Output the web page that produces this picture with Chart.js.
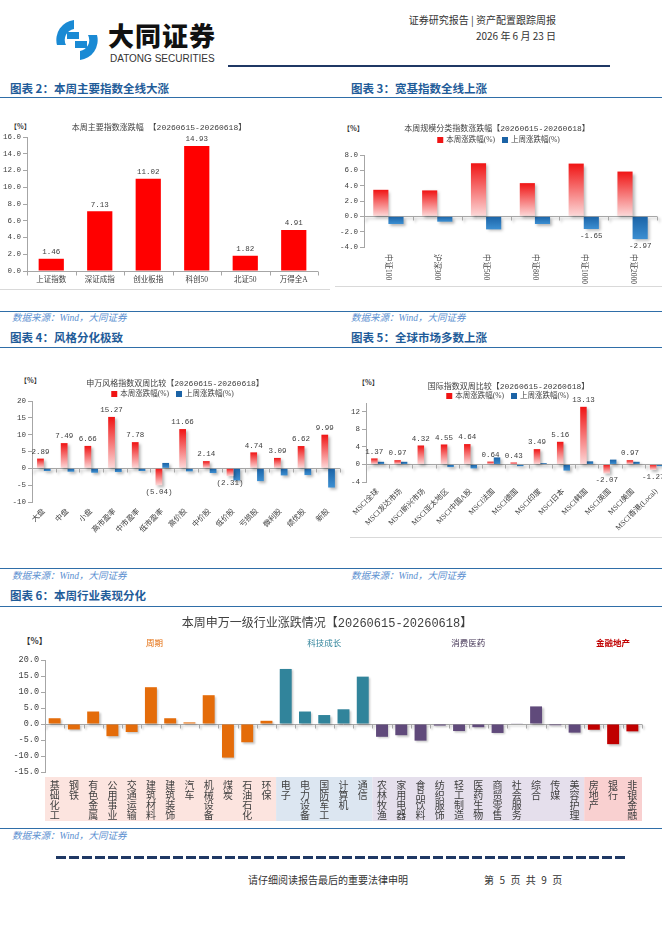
<!DOCTYPE html>
<html lang="zh-CN">
<head>
<meta charset="utf-8">
<title>资产配置跟踪周报</title>
<script src="https://cdn.jsdelivr.net/npm/chart.js@4.4.1/dist/chart.umd.min.js"></script>
<style>
  html, body { margin: 0; padding: 0; background: #fff; overflow: hidden; }
  body { position: relative; width: 662px; height: 936px; font-family: "Noto Sans CJK SC", sans-serif; color: #333; }
  .a { position: absolute; white-space: nowrap; line-height: 1; }
  .sec { font-size: 11.5px; font-weight: bold; color: #1f5c99; }
  .rule { position: absolute; left: 0; width: 662px; height: 0; border-top: 1.5px solid #2f6ea8; }
  .src { font-size: 9.5px; font-style: italic; color: #5b8fd0; font-family: "Liberation Serif", "Noto Sans CJK SC", serif; }
  .pct { font-size: 7px; font-weight: bold; color: #333; }
  .box { position: absolute; height: 0; border-top: 1px solid #d9d9d9; }
  canvas { position: absolute; }
</style>
</head>
<body>

<!-- 页眉 -->
<svg class="a" style="left:52px;top:17px" width="50" height="46" viewBox="0 0 50 46">
  <path d="M22 3 A20 20 0 0 0 5 28 L14 28 A11 11 0 0 1 22 12 Z" fill="#1a8ad4"/>
  <path d="M28 43 A20 20 0 0 0 45 18 L36 18 A11 11 0 0 1 28 34 Z" fill="#1a8ad4"/>
  <rect x="15" y="15" width="12" height="7" fill="#1a8ad4"/>
  <rect x="23" y="24" width="12" height="7" fill="#1a8ad4"/>
</svg>
<div class="a" style="left:108px;top:22px;font-size:26px;font-weight:900;color:#111;letter-spacing:1px">大同证券</div>
<div class="a" style="left:110px;top:54px;font-size:10px;color:#333;font-family:'Liberation Sans',sans-serif">DATONG SECURITIES</div>
<div class="a" style="left:228px;top:65px;width:382px;height:2px;background:#1f3864"></div>
<div class="a" style="left:380px;top:15px;width:176px;text-align:right;font-size:10px">证券研究报告 | 资产配置跟踪周报</div>
<div class="a" style="left:380px;top:31px;width:176px;text-align:right;font-size:10px">2026 年 6 月 23 日</div>

<!-- 图表标题与分隔线 -->
<div class="a sec" style="left:10px;top:83px">图表 2：本周主要指数全线大涨</div>
<div class="a sec" style="left:351px;top:83px">图表 3：宽基指数全线上涨</div>
<div class="rule" style="top:97px"></div>

<div class="a pct" style="left:10px;top:123px">【%】</div>
<div class="a pct" style="left:343px;top:125px">【%】</div>
<div class="box" style="left:0;top:289px;width:330px"></div>
<div class="box" style="left:335px;top:286px;width:327px"></div>

<div class="rule" style="top:311px"></div>
<div class="a src" style="left:12px;top:314px">数据来源：Wind，大同证券</div>
<div class="a src" style="left:351px;top:314px">数据来源：Wind，大同证券</div>
<div class="a sec" style="left:10px;top:332px">图表 4：风格分化极致</div>
<div class="a sec" style="left:351px;top:332px">图表 5：全球市场多数上涨</div>
<div class="rule" style="top:347px"></div>

<div class="a pct" style="left:20px;top:377px">【%】</div>
<div class="a pct" style="left:358px;top:379px">【%】</div>
<div class="box" style="left:350px;top:537px;width:312px"></div>

<div class="rule" style="top:568px"></div>
<div class="a src" style="left:12px;top:572px">数据来源：Wind，大同证券</div>
<div class="a src" style="left:351px;top:572px">数据来源：Wind，大同证券</div>
<div class="a sec" style="left:10px;top:590px">图表 6：本周行业表现分化</div>
<div class="rule" style="top:606px"></div>

<div class="a pct" style="left:22px;top:636px;font-size:8.5px">【%】</div>

<div class="rule" style="top:828px"></div>
<div class="a src" style="left:12px;top:832px">数据来源：Wind，大同证券</div>

<!-- 页脚 -->
<div class="a" style="left:56px;top:856px;width:571px;height:3px;background:repeating-linear-gradient(90deg,#1f3864 0 10px,transparent 10px 13px)"></div>
<div class="a" style="left:248px;top:875px;font-size:10px;color:#333">请仔细阅读报告最后的重要法律申明</div>
<div class="a" style="left:484px;top:875px;font-size:10px;color:#333;letter-spacing:1.6px">第 5 页 共 9 页</div>

<canvas id="c2" width="325" height="176" style="left:0;top:116px"></canvas>
<canvas id="c3" width="327" height="176" style="left:335px;top:116px"></canvas>
<canvas id="c4" width="345" height="170" style="left:0;top:372px"></canvas>
<canvas id="c5" width="345" height="170" style="left:335px;top:372px"></canvas>
<canvas id="c6" width="662" height="212" style="left:0;top:612px"></canvas>

<script>
// ===== 图表2：主要指数 =====
const idxNames = ["上证指数", "深证成指", "创业板指", "科创50", "北证50", "万得全A"];
const idxChg = [1.46, 7.13, 11.02, 14.93, 1.82, 4.91];
const idxAxis = [0, 16, 2]; // min, max, step

// ===== 图表3：规模指数 =====
const sizeNames = ["中证100", "沪深300", "中证500", "中证800", "中证1000", "中证2000"];
const sizeThisWeek = [3.46, 3.38, 6.93, 4.33, 6.88, 5.84];
const sizeLastWeek = [-1.0, -0.7, -1.7, -1.0, -1.65, -2.97];
const sizeLabelIdx = [4, 5];
const sizeAxis = [-4, 8, 2];

// ===== 图表4：申万风格指数 =====
const styleNames = ["大盘", "中盘", "小盘", "高市盈率", "中市盈率", "低市盈率", "高价股", "中价股", "低价股", "亏损股", "微利股", "绩优股", "新股"];
const styleThisWeek = [2.89, 7.49, 6.66, 15.27, 7.78, -5.04, 11.66, 2.14, -2.31, 4.74, 3.09, 6.62, 9.99];
const styleLastWeek = [-0.8, -1.0, -1.3, -1.1, -0.8, 1.6, -0.9, -1.4, -3.6, -3.8, -2.1, -2.0, -5.7];
const styleAxis = [-10, 20, 5];

// ===== 图表5：国际指数 =====
const msciNames = ["MSCI全球", "MSCI发达市场", "MSCI新兴市场", "MSCI亚太地区", "MSCI中国A股", "MSCI法国", "MSCI德国", "MSCI印度", "MSCI日本", "MSCI韩国", "MSCI英国", "MSCI美国", "MSCI香港(Local)"];
const msciThisWeek = [1.37, 0.97, 4.32, 4.55, 4.64, 0.64, 0.43, 3.49, 5.16, 13.13, -2.07, 0.97, -1.27];
const msciLastWeek = [0.6, 0.6, -0.1, -0.6, -0.9, 1.6, -0.4, 0.3, -1.4, 0.7, 1.1, 0.6, -0.4];
const msciAxis = [-4, 14, 2];

// ===== 图表6：申万一级行业 =====
const indNames = ["基础化工", "钢铁", "有色金属", "公用事业", "交通运输", "建筑材料", "建筑装饰", "汽车", "机械设备", "煤炭", "石油石化", "环保",
  "电子", "电力设备", "国防军工", "计算机", "通信",
  "农林牧渔", "家用电器", "食品饮料", "纺织服饰", "轻工制造", "医药生物", "商贸零售", "社会服务", "综合", "传媒", "美容护理",
  "房地产", "银行", "非银金融"];
const indChg = [1.8, -1.7, 3.9, -3.8, -2.5, 11.5, 1.8, 0.5, 9.0, -10.5, -5.7, 1.0,
  17.2, 3.9, 2.8, 4.6, 14.8,
  -4.0, -3.5, -5.2, -0.5, -2.2, -1.0, -2.8, 0.2, 5.5, -0.4, -2.7,
  -1.8, -6.3, -2.3];
const indGroupNames = ["周期", "科技成长", "消费医药", "金融地产"];
const indGroupSizes = [12, 5, 11, 3];
const indAxis = [-15, 20, 5];

// ===== 样式 =====
const NUM_FONT = '"Liberation Mono", "Noto Sans CJK SC", monospace';
const TXT_FONT = '"Liberation Serif", "Noto Sans CJK SC", serif';
const AXIS_COLOR = "#a6a6a6";
const TEXT_COLOR = "#404040";
const RED_TOP = "#f01414", RED_BOTTOM = "#fcd9d9";
const BLUE_TOP = "#1b63a6", BLUE_BOTTOM = "#3c8fd2";
const groupBarColors = ["#e46c0a", "#31849b", "#604a7b", "#c00000"];
const groupTextColors = ["#e46c0a", "#31849b", "#403152", "#c00000"];
const groupTextWeights = ["normal", "normal", "normal", "bold"];
const groupTextShift = [-6, 0, -10, 0];
const groupBandColors = ["#fce4df", "#dce6f1", "#e5dfec", "#f9d0d0"];

Chart.defaults.animation = false;
Chart.defaults.plugins.legend.display = false;
Chart.defaults.plugins.tooltip.enabled = false;

// 柱状渐变（上→下）
function gradFill(top, bottom) {
  return (c) => {
    const chart = c.chart, ys = chart.scales.y;
    if (!ys || !chart.chartArea || typeof c.raw !== "number") return top;
    const y0 = ys.getPixelForValue(Math.max(c.raw, 0));
    const y1 = ys.getPixelForValue(Math.min(c.raw, 0));
    if (!isFinite(y0) || !isFinite(y1) || y0 === y1) return top;
    const g = chart.ctx.createLinearGradient(0, y0, 0, y1);
    g.addColorStop(0, top);
    g.addColorStop(1, bottom);
    return g;
  };
}

// 柱子阴影
const barShadow = {
  id: "barShadow",
  beforeDatasetsDraw(chart, args, o) {
    if (!o.color) return;
    const ctx = chart.ctx;
    ctx.save();
    ctx.shadowColor = o.color;
    ctx.shadowBlur = o.blur;
    ctx.shadowOffsetX = o.dx;
    ctx.shadowOffsetY = o.dy;
  },
  afterDatasetsDraw(chart, args, o) {
    if (!o.color) return;
    chart.ctx.restore();
  },
};

// 0轴线 + 分类刻度
const zeroAxis = {
  id: "zeroAxis",
  beforeDatasetsDraw(chart) {
    const { ctx, chartArea: a, scales: { x, y } } = chart;
    const n = chart.data.labels.length;
    const w = x.getPixelForValue(1) - x.getPixelForValue(0);
    const y0 = Math.round(y.getPixelForValue(0)) + 0.5;
    ctx.save();
    ctx.strokeStyle = AXIS_COLOR;
    ctx.lineWidth = 1;
    ctx.beginPath();
    ctx.moveTo(a.left, y0);
    ctx.lineTo(a.right, y0);
    for (let i = 0; i <= n; i++) {
      const px = Math.round(x.getPixelForValue(i) - w / 2) + 0.5;
      ctx.moveTo(px, y0);
      ctx.lineTo(px, y0 + 4);
    }
    ctx.stroke();
    ctx.restore();
  },
};

// 数据标签
const valueLabels = {
  id: "valueLabels",
  afterDatasetsDraw(chart) {
    const ctx = chart.ctx;
    chart.data.datasets.forEach((ds, di) => {
      if (!ds.valueLabel) return;
      const meta = chart.getDatasetMeta(di);
      ctx.save();
      ctx.font = `7.5px ${NUM_FONT}`;
      ctx.fillStyle = TEXT_COLOR;
      ctx.textAlign = "center";
      meta.data.forEach((bar, i) => {
        if (ds.labelIdx && !ds.labelIdx.includes(i)) return;
        const v = ds.data[i];
        let txt = v.toFixed(2);
        if (v < 0 && ds.valueLabel === "paren") txt = "(" + Math.abs(v).toFixed(2) + ")";
        if (v >= 0) {
          ctx.textBaseline = "bottom";
          ctx.fillText(txt, bar.x, bar.y - 3);
        } else {
          ctx.textBaseline = "top";
          ctx.fillText(txt, bar.x, bar.y + 3);
        }
      });
      ctx.restore();
    });
  },
};

// 图例（方块 + 文字）
const miniLegend = {
  id: "miniLegend",
  afterDraw(chart, args, o) {
    if (!o.dy) return;
    const { ctx, chartArea: a } = chart;
    const box = 6, gap = 7;
    ctx.save();
    ctx.font = `7.5px ${TXT_FONT}`;
    ctx.textBaseline = "middle";
    const items = chart.data.datasets;
    const widths = items.map((ds) => box + 3 + ctx.measureText(ds.label).width);
    const total = widths.reduce((s, w) => s + w, 0) + gap * (items.length - 1);
    let x = chart.width / 2 - total / 2 + (o.dx || 0);
    const y = a.top - o.dy;
    items.forEach((ds, i) => {
      ctx.fillStyle = ds.legendColor;
      ctx.fillRect(x, y - box / 2, box, box);
      ctx.fillStyle = TEXT_COLOR;
      ctx.fillText(ds.label, x + box + 3, y);
      x += widths[i] + gap;
    });
    ctx.restore();
  },
};

// 竖排（顺时针旋转）分类标签
const downLabels = {
  id: "downLabels",
  afterDraw(chart, args, o) {
    if (!o.show) return;
    const { ctx, chartArea: a, scales: { x } } = chart;
    ctx.save();
    ctx.font = `7.5px ${TXT_FONT}`;
    ctx.fillStyle = TEXT_COLOR;
    ctx.textAlign = "left";
    ctx.textBaseline = "middle";
    chart.data.labels.forEach((lab, i) => {
      ctx.save();
      ctx.translate(x.getPixelForValue(i), a.bottom + 7);
      ctx.rotate(Math.PI / 2);
      ctx.fillText(lab, 0, 0);
      ctx.restore();
    });
    ctx.restore();
  },
};

// 行业分组底色 + 分组名
const groupBands = {
  id: "groupBands",
  beforeDraw(chart, args, o) {
    if (!o.show) return;
    const { ctx, chartArea: a, scales: { x } } = chart;
    const w = x.getPixelForValue(1) - x.getPixelForValue(0);
    let start = 0;
    ctx.save();
    ctx.textAlign = "center";
    ctx.textBaseline = "middle";
    indGroupSizes.forEach((n, g) => {
      const x0 = x.getPixelForValue(start) - w / 2;
      const x1 = x.getPixelForValue(start + n - 1) + w / 2;
      ctx.fillStyle = groupBandColors[g];
      ctx.fillRect(x0, a.bottom + 5, x1 - x0, 44);
      ctx.fillStyle = groupTextColors[g];
      ctx.font = `${groupTextWeights[g]} 8.5px "Noto Sans CJK SC"`;
      ctx.fillText(indGroupNames[g], (x0 + x1) / 2 + groupTextShift[g], a.top - 17);
      start += n;
    });
    ctx.restore();
  },
};

const allPlugins = [barShadow, zeroAxis, valueLabels, miniLegend, downLabels, groupBands];

function chartTitle(text, size, top, bottom) {
  return {
    display: true,
    text,
    color: TEXT_COLOR,
    font: { family: NUM_FONT, size, weight: "normal" },
    padding: { top, bottom },
  };
}

function yAxis(range, digits, width, size) {
  return {
    min: range[0],
    max: range[1],
    grid: { drawOnChartArea: false, drawTicks: true, tickLength: 4, color: AXIS_COLOR },
    border: { display: true, color: AXIS_COLOR },
    ticks: {
      stepSize: range[2],
      padding: 2,
      color: TEXT_COLOR,
      font: { family: NUM_FONT, size },
      callback: (v) => v.toFixed(digits),
    },
    afterFit(s) { s.width = width; },
  };
}

function xAxis(height, size, rotate, padding, show = true, font = TXT_FONT, lineHeight = 1.2) {
  return {
    grid: { display: false, drawTicks: false },
    border: { display: false },
    ticks: {
      display: show,
      autoSkip: false,
      minRotation: rotate,
      maxRotation: rotate,
      padding,
      color: TEXT_COLOR,
      font: { family: font, size, lineHeight },
    },
    afterFit(s) { s.height = height; },
  };
}

const SHADOW = { color: "rgba(0,0,0,0.28)", blur: 3, dx: 2, dy: 2 };

// ===== 图表2 =====
new Chart(document.getElementById("c2"), {
  type: "bar",
  data: {
    labels: idxNames,
    datasets: [{
      data: idxChg,
      backgroundColor: "#ff0000",
      barPercentage: 0.52,
      categoryPercentage: 1,
      valueLabel: "plain",
    }],
  },
  options: {
    responsive: false,
    layout: { padding: { left: 0, right: 7, top: 0, bottom: 5 } },
    plugins: { title: chartTitle("本周主要指数涨跌幅 【20260615-20260618】", 8, 7, 4.4) },
    scales: { x: xAxis(16, 7.5, 0, 5), y: yAxis(idxAxis, 1, 27, 7.5) },
  },
  plugins: allPlugins,
});

// ===== 图表3 =====
new Chart(document.getElementById("c3"), {
  type: "bar",
  data: {
    labels: sizeNames,
    datasets: [
      {
        label: "本周涨跌幅(%)",
        data: sizeThisWeek,
        backgroundColor: gradFill(RED_TOP, RED_BOTTOM),
        legendColor: RED_TOP,
        categoryPercentage: 0.62,
        barPercentage: 1,
      },
      {
        label: "上周涨跌幅(%)",
        data: sizeLastWeek,
        backgroundColor: gradFill(BLUE_TOP, BLUE_BOTTOM),
        legendColor: BLUE_TOP,
        categoryPercentage: 0.62,
        barPercentage: 1,
        valueLabel: "plain",
        labelIdx: sizeLabelIdx,
      },
    ],
  },
  options: {
    responsive: false,
    layout: { padding: { left: 2, right: 5, top: 0, bottom: 45 } },
    plugins: {
      title: chartTitle("本周规模分类指数涨跌幅【20260615-20260618】", 8, 8.2, 21.2),
      barShadow: SHADOW,
      miniLegend: { dy: 15 },
      downLabels: { show: true },
    },
    scales: { x: xAxis(0, 7.5, 0, 0, false), y: yAxis(sizeAxis, 1, 27, 7.5) },
  },
  plugins: allPlugins,
});

// ===== 图表4 =====
new Chart(document.getElementById("c4"), {
  type: "bar",
  data: {
    labels: styleNames,
    datasets: [
      {
        label: "本周涨跌幅(%)",
        data: styleThisWeek,
        backgroundColor: gradFill(RED_TOP, RED_BOTTOM),
        legendColor: RED_TOP,
        categoryPercentage: 0.57,
        barPercentage: 1,
        valueLabel: "paren",
      },
      {
        label: "上周涨跌幅(%)",
        data: styleLastWeek,
        backgroundColor: gradFill(BLUE_TOP, BLUE_BOTTOM),
        legendColor: BLUE_TOP,
        categoryPercentage: 0.57,
        barPercentage: 1,
      },
    ],
  },
  options: {
    responsive: false,
    layout: { padding: { left: 10, right: 5, top: 0, bottom: 4 } },
    plugins: {
      title: chartTitle("申万风格指数双周比较【20260615-20260618】", 8, 7.2, 12.2),
      barShadow: SHADOW,
      miniLegend: { dy: 7 },
    },
    scales: { x: xAxis(36, 7.5, 45, 5), y: yAxis(styleAxis, 0, 22, 7.5) },
  },
  plugins: allPlugins,
});

// ===== 图表5 =====
new Chart(document.getElementById("c5"), {
  type: "bar",
  data: {
    labels: msciNames,
    datasets: [
      {
        label: "本周涨跌幅(%)",
        data: msciThisWeek,
        backgroundColor: gradFill(RED_TOP, RED_BOTTOM),
        legendColor: RED_TOP,
        categoryPercentage: 0.56,
        barPercentage: 1,
        valueLabel: "plain",
      },
      {
        label: "上周涨跌幅(%)",
        data: msciLastWeek,
        backgroundColor: gradFill(BLUE_TOP, BLUE_BOTTOM),
        legendColor: BLUE_TOP,
        categoryPercentage: 0.56,
        barPercentage: 1,
      },
    ],
  },
  options: {
    responsive: false,
    layout: { padding: { left: 14, right: 12, top: 0, bottom: 4 } },
    plugins: {
      title: chartTitle("国际指数双周比较【20260615-20260618】", 8, 10.2, 11.2),
      barShadow: SHADOW,
      miniLegend: { dy: 7 },
    },
    scales: { x: xAxis(56, 7.5, 45, 5), y: yAxis(msciAxis, 0, 17, 7.5) },
  },
  plugins: allPlugins,
});

// ===== 图表6 =====
const indColors = [];
indGroupSizes.forEach((n, g) => { for (let i = 0; i < n; i++) indColors.push(groupBarColors[g]); });

new Chart(document.getElementById("c6"), {
  type: "bar",
  data: {
    labels: indNames.map((s) => s.split("")),
    datasets: [{
      data: indChg,
      backgroundColor: indColors,
      barPercentage: 0.62,
      categoryPercentage: 1,
    }],
  },
  options: {
    responsive: false,
    layout: { padding: { left: 12, right: 20, top: 0, bottom: 4 } },
    plugins: {
      title: chartTitle("本周申万一级行业涨跌情况【20260615-20260618】", 12, 4.8, 28.8),
      barShadow: { color: "rgba(0,0,0,0.22)", blur: 2, dx: 1.5, dy: 1.5 },
      groupBands: { show: true },
    },
    scales: {
      x: xAxis(48, 10, 0, 8, true, '"Noto Sans CJK SC"', "10px"),
      y: yAxis(indAxis, 1, 33, 8.5),
    },
  },
  plugins: allPlugins,
});
</script>
</body>
</html>
